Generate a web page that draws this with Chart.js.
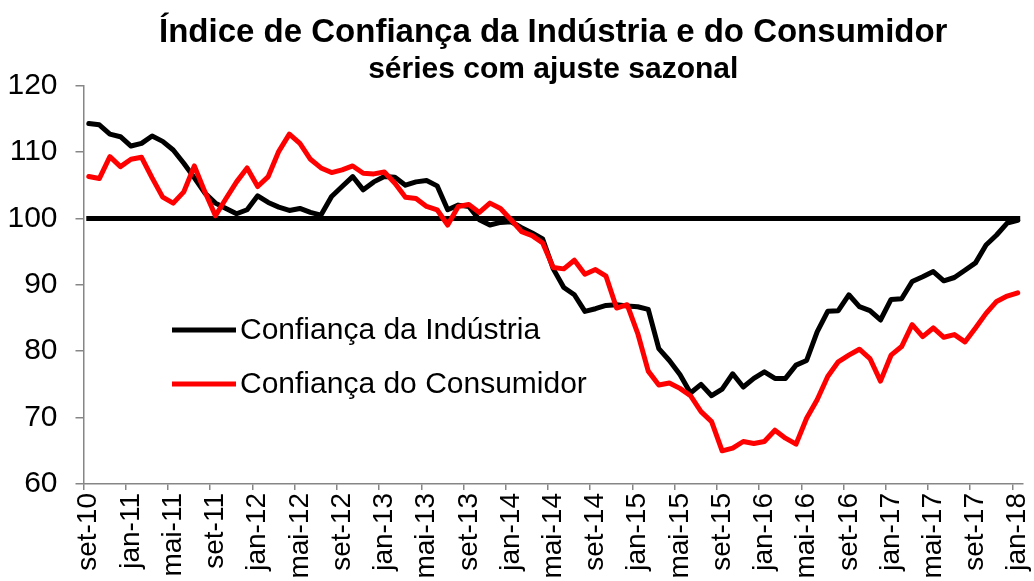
<!DOCTYPE html>
<html>
<head>
<meta charset="utf-8">
<script src="https://cdn.jsdelivr.net/npm/chart.js@4/dist/chart.umd.min.js"></script>
<style>
    html, body { margin: 0; padding: 0; background: #ffffff; }
    #wrap { width: 1034px; height: 581px; }
</style>
</head>
<body>
<div id="wrap"><canvas id="myChart" width="1034" height="581"></canvas></div>
<script>
    // Months set-10 .. jan-18 (89 points)
    var monthNames = ['jan', 'fev', 'mar', 'abr', 'mai', 'jun', 'jul', 'ago', 'set', 'out', 'nov', 'dez'];
    var firstMonth = 8;   // set
    var firstYear = 10;
    var monthCount = 89;

    var yTicks = [60, 70, 80, 90, 100, 110, 120];
    var referenceLevel = 100;

    var industria = [
        114.3, 114.1, 112.7, 112.3, 110.9, 111.3, 112.4, 111.6, 110.3, 108.3,
        106.1, 103.8, 102.3, 101.5, 100.7, 101.3, 103.4, 102.4, 101.7, 101.2,
        101.5, 100.9, 100.5, 103.3, 104.8, 106.3, 104.3, 105.5, 106.3, 106.2,
        105.0, 105.5, 105.7, 104.9, 101.3, 102.0, 101.8, 99.8, 99.0, 99.4,
        99.5, 98.6, 97.8, 96.9, 92.4, 89.6, 88.5, 86.0, 86.4, 86.9,
        87.0, 86.8, 86.7, 86.3, 80.4, 78.6, 76.5, 73.7, 75.0, 73.3,
        74.3, 76.6, 74.6, 75.9, 76.9, 75.9, 75.9, 77.9, 78.6, 82.9,
        86.0, 86.1, 88.5, 86.7, 86.1, 84.7, 87.8, 87.9, 90.5, 91.2,
        92.0, 90.6, 91.1, 92.2, 93.3, 96.0, 97.5, 99.3, 99.7
    ];

    var consumidor = [
        106.3, 106.0, 109.3, 107.8, 108.9, 109.2, 106.1, 103.2, 102.3, 104.0,
        107.9, 104.0, 100.4, 103.0, 105.5, 107.6, 104.8, 106.3, 110.1, 112.7,
        111.3, 108.9, 107.6, 106.9, 107.3, 107.9, 106.8, 106.7, 107.0, 105.3,
        103.2, 103.0, 101.8, 101.3, 99.0, 101.8, 102.1, 100.9, 102.3, 101.5,
        99.8, 98.0, 97.4, 96.3, 92.6, 92.4, 93.7, 91.6, 92.3, 91.3,
        86.5, 87.0, 82.7, 77.0, 74.9, 75.2, 74.4, 73.3, 70.9, 69.4,
        65.0, 65.4, 66.4, 66.1, 66.4, 68.1, 66.9, 66.0, 69.9, 72.7,
        76.2, 78.4, 79.4, 80.3, 78.9, 75.5, 79.4, 80.7, 84.0, 82.2,
        83.5, 82.1, 82.5, 81.4, 83.5, 85.7, 87.5, 88.3, 88.8
    ];

    var monthLabels = [];
    for (var i = 0; i < monthCount; i++) {
        var m = (firstMonth + i) % 12;
        var y = firstYear + Math.floor((firstMonth + i) / 12);
        monthLabels.push(monthNames[m] + '-' + y);
    }

    var fontFamily = '"Liberation Sans", Arial, Helvetica, sans-serif';
    var axisGray = '#868686';

    // legend drawn inside the plot, as in the original
    var insideLegend = {
        id: 'insideLegend',
        afterDatasetsDraw: function (chart) {
            var ctx = chart.ctx;
            var rows = [
                { text: 'Confiança da Indústria', color: '#000000', y: 330 },
                { text: 'Confiança do Consumidor', color: '#ff0000', y: 384 }
            ];
            ctx.save();
            ctx.font = '30px ' + fontFamily;
            ctx.textBaseline = 'middle';
            ctx.textAlign = 'left';
            for (var i = 0; i < rows.length; i++) {
                ctx.strokeStyle = rows[i].color;
                ctx.lineWidth = 5;
                ctx.lineCap = 'butt';
                ctx.beginPath();
                ctx.moveTo(172, rows[i].y);
                ctx.lineTo(236, rows[i].y);
                ctx.stroke();
                ctx.fillStyle = '#000000';
                ctx.fillText(rows[i].text, 240, rows[i].y + 1);
            }
            ctx.restore();
        }
    };

    const ctx = document.getElementById('myChart');
    new Chart(ctx, {
        type: 'line',
        data: {
            labels: monthLabels,
            datasets: [{
                label: 'Confiança do Consumidor',
                data: consumidor,
                borderColor: '#ff0000',
                borderWidth: 5,
            }, {
                label: 'Confiança da Indústria',
                data: industria,
                borderColor: '#000000',
                borderWidth: 5,
            }, {
                label: 'Referência',
                data: [
                    { x: monthLabels[0], y: referenceLevel },
                    { x: monthLabels[monthCount - 1], y: referenceLevel }
                ],
                borderColor: '#000000',
                borderWidth: 5,
                borderCapStyle: 'square',
            }]
        },
        options: {
            responsive: false,
            animation: false,
            devicePixelRatio: 1,
            layout: {
                padding: { left: 0, right: 11, top: 0, bottom: 0 }
            },
            elements: {
                point: { radius: 0 },
                line: { tension: 0, borderJoinStyle: 'round', borderCapStyle: 'round', fill: false }
            },
            plugins: {
                legend: { display: false },
                tooltip: { enabled: false },
                title: {
                    display: true,
                    fullSize: false,
                    text: 'Índice de Confiança da Indústria e do Consumidor',
                    color: '#000000',
                    font: { family: fontFamily, size: 33, weight: 'bold', lineHeight: 1.2 },
                    padding: { top: 13, bottom: 0 }
                },
                subtitle: {
                    display: true,
                    fullSize: false,
                    text: 'séries com ajuste sazonal',
                    color: '#000000',
                    font: { family: fontFamily, size: 30, weight: 'bold', lineHeight: 1.0 },
                    padding: { top: 2, bottom: 1 }
                }
            },
            scales: {
                x: {
                    type: 'category',
                    offset: true,
                    afterFit: function (scale) {
                        scale.height = 97;
                        scale.paddingLeft = 0;
                        scale.paddingRight = 0;
                    },
                    grid: {
                        offset: true,
                        drawOnChartArea: false,
                        drawTicks: true,
                        tickLength: 6,
                        lineWidth: 1.5,
                        color: function (c) { return c.index % 4 === 0 ? axisGray : 'rgba(0,0,0,0)'; }
                    },
                    border: { color: axisGray, width: 1.5 },
                    ticks: {
                        autoSkip: false,
                        maxRotation: 90,
                        minRotation: 90,
                        padding: 3,
                        color: '#000000',
                        font: { family: fontFamily, size: 28 },
                        callback: function (value, index) {
                            return index % 4 === 0 ? monthLabels[index] : '';
                        }
                    }
                },
                y: {
                    min: 60,
                    max: 120,
                    afterFit: function (scale) { scale.width = 83.5; },
                    afterBuildTicks: function (scale) {
                        scale.ticks = yTicks.map(function (v) { return { value: v }; });
                    },
                    grid: {
                        drawOnChartArea: false,
                        drawTicks: true,
                        tickLength: 8,
                        lineWidth: 1.5,
                        color: axisGray
                    },
                    border: { color: axisGray, width: 1.5 },
                    ticks: {
                        padding: 18,
                        color: '#000000',
                        font: { family: fontFamily, size: 30 }
                    }
                }
            }
        },
        plugins: [insideLegend]
    });
</script>
</body>
</html>
